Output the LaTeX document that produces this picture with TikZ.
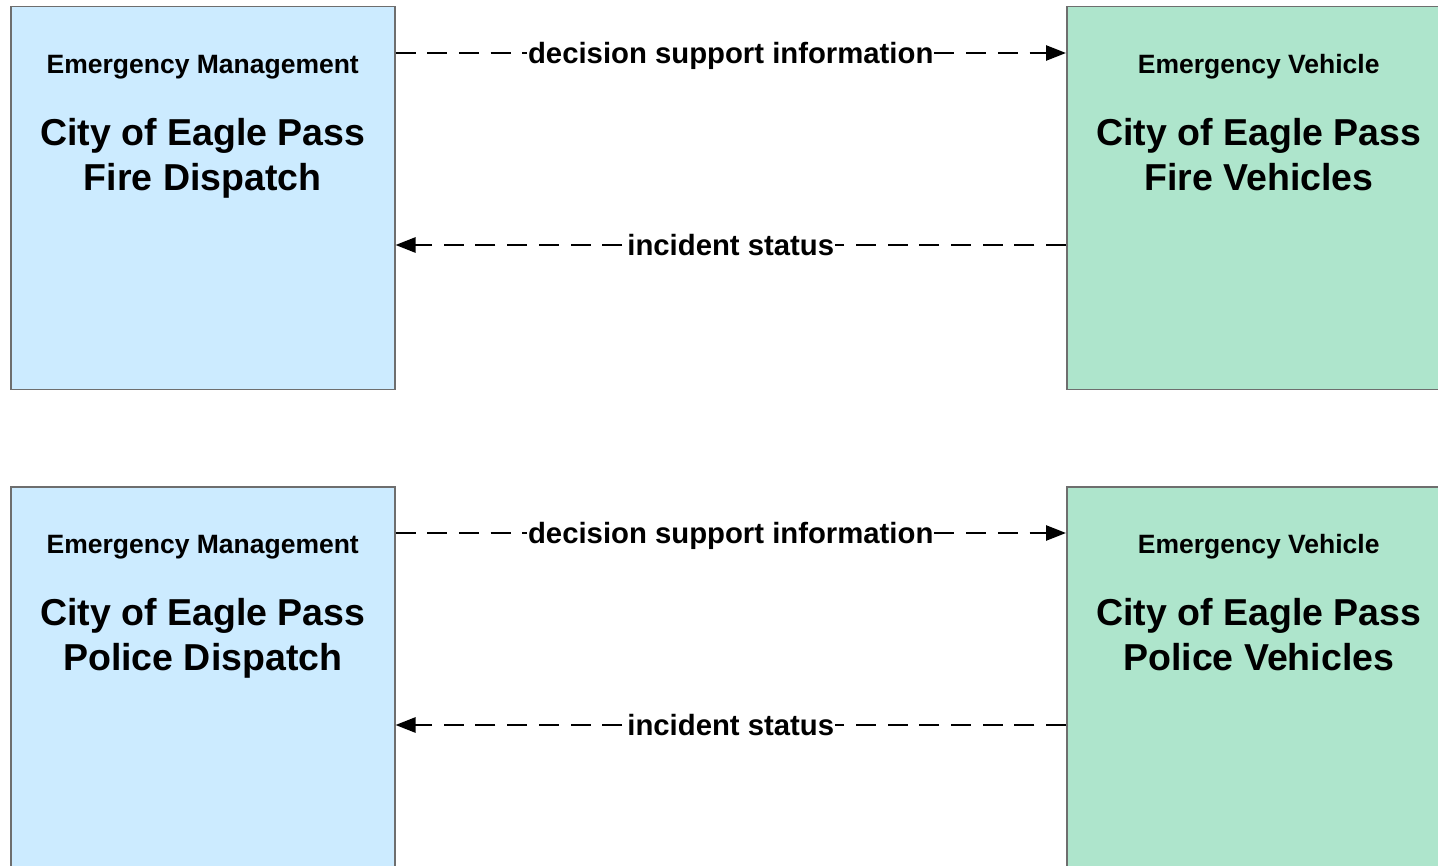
\documentclass[tikz,border=0pt]{standalone}
\usepackage{fontspec}
\setmainfont{Liberation Sans}
\usetikzlibrary{arrows.meta,calc}
\definecolor{emblue}{RGB}{204,235,255}
\definecolor{evgreen}{RGB}{174,229,204}
\definecolor{boxline}{RGB}{110,110,110}
\tikzset{
  sysbox/.style={draw=boxline,line width=1.5pt,minimum width=384pt,minimum height=383pt,anchor=north west,inner sep=0pt},
  cattext/.style={font=\fontsize{26.5}{31}\selectfont\bfseries,text depth=0pt},
  nametext/.style={font=\fontsize{37.5}{45}\selectfont\bfseries,align=center},
  flow/.style={line width=2.6pt,dash pattern=on 20pt off 11.7pt},
  flowlabel/.style={fill=white,inner xsep=1pt,inner ysep=2pt,text depth=0pt,font=\fontsize{29.3}{34}\selectfont\bfseries},
  tip/.style={-{Triangle[length=20pt,width=15pt]}}
}
\begin{document}
\begin{tikzpicture}[x=1pt,y=-1pt]
\useasboundingbox (0,0) rectangle (1438,866);
% boxes
\node[sysbox,fill=emblue] (fd) at (10,6) {};
\node[sysbox,fill=evgreen] (fv) at (1066,6) {};
\node[sysbox,fill=emblue] (pd) at (10,486) {};
\node[sysbox,fill=evgreen] (pv) at (1066,486) {};
% texts
\node[cattext] (fdc) at ($(fd.north)+(0,58)$) {Emergency Management};
\node[nametext] (fdn) at ($(fd.north)+(0,153)$) {City of Eagle Pass\strut\\Fire Dispatch\strut};
\node[cattext] (fvc) at ($(fv.north)+(0,58)$) {Emergency Vehicle};
\node[nametext] (fvn) at ($(fv.north)+(0,153)$) {City of Eagle Pass\strut\\Fire Vehicles\strut};
\node[cattext] (pdc) at ($(pd.north)+(0,58)$) {Emergency Management};
\node[nametext] (pdn) at ($(pd.north)+(0,153)$) {City of Eagle Pass\strut\\Police Dispatch\strut};
\node[cattext] (pvc) at ($(pv.north)+(0,58)$) {Emergency Vehicle};
\node[nametext] (pvn) at ($(pv.north)+(0,153)$) {City of Eagle Pass\strut\\Police Vehicles\strut};
% flows
\draw[flow,tip] ($(fd.north east)+(0,47)$) -- node[flowlabel] (l1) {decision support information} ($(fv.north west)+(0,47)$);
\draw[flow,tip] ($(fv.north west)+(0,239)$) -- node[flowlabel] (l2) {incident status} ($(fd.north east)+(0,239)$);
\draw[flow,tip] ($(pd.north east)+(0,47)$) -- node[flowlabel] (l3) {decision support information} ($(pv.north west)+(0,47)$);
\draw[flow,tip] ($(pv.north west)+(0,239)$) -- node[flowlabel] (l4) {incident status} ($(pd.north east)+(0,239)$);
\end{tikzpicture}
\end{document}
